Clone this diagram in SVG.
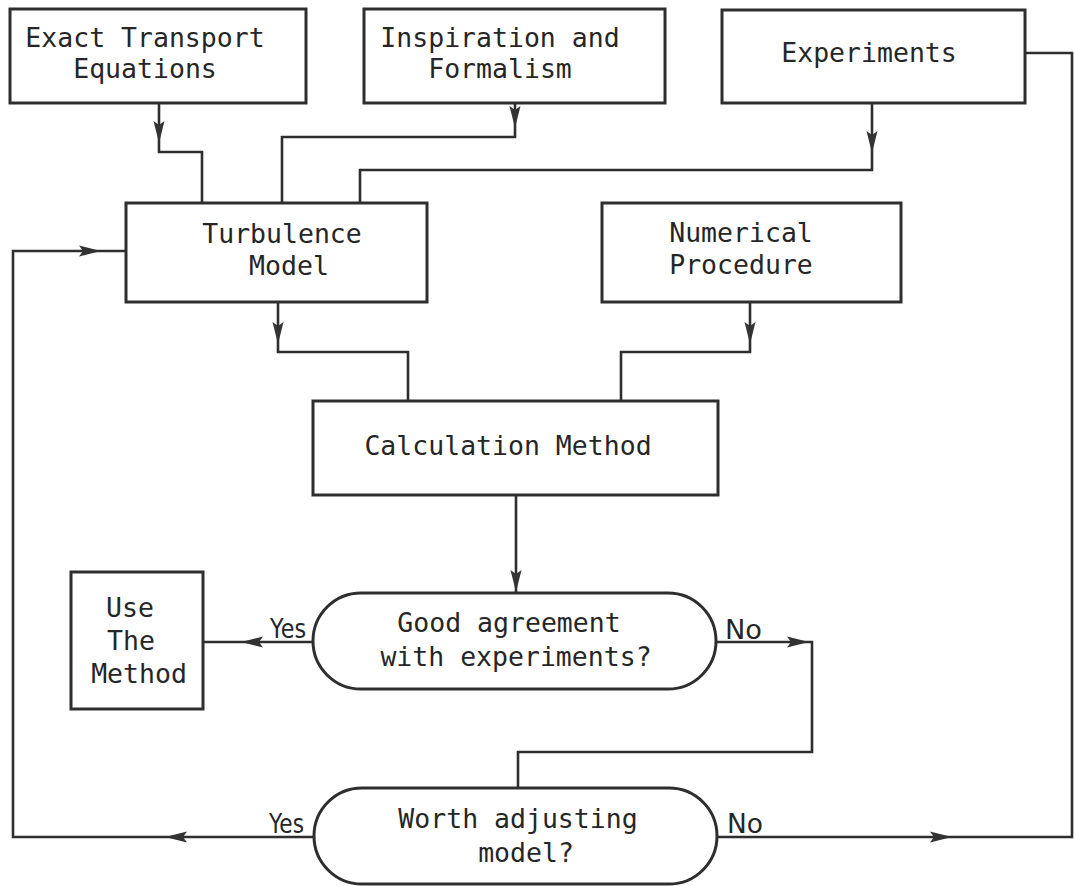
<svg xmlns="http://www.w3.org/2000/svg" xmlns:xlink="http://www.w3.org/1999/xlink" width="1074" height="886" viewBox="0 0 1074 886">
<style>
.box{fill:#fff;stroke:#2e2e2e;stroke-width:3}
.pill{fill:#fff;stroke:#2e2e2e;stroke-width:3}
.con{fill:none;stroke:#2e2e2e;stroke-width:2.6}
.ah{fill:#333}
.t{font-family:"DejaVu Sans Mono","Liberation Mono",monospace;font-size:26.5px;fill:#262626;text-anchor:middle}
.yn{font-family:"DejaVu Sans","Liberation Sans",sans-serif;font-size:27px;fill:#262626}
</style>
<defs>
<path id="ah" d="M-22,-5.5 L0,0 L-22,5.5 L-18,0 z"/>
</defs>
<rect width="1074" height="886" fill="#fff"/>

<g id="connectors">
<path class="con" d="M159,103 L159,152 L202,152 L202,203"/>
<path class="con" d="M515,103 L515,137 L282,137 L282,203"/>
<path class="con" d="M872,103 L872,170 L360,170 L360,203"/>
<path class="con" d="M314,837 L13,837 L13,251 L126,251"/>
<path class="con" d="M278,302 L278,352 L408,352 L408,401"/>
<path class="con" d="M750,302 L750,352 L621,352 L621,401"/>
<path class="con" d="M516,495 L516,593"/>
<path class="con" d="M313,642 L203,642"/>
<path class="con" d="M717,642 L812,642 L812,752 L518,752 L518,788"/>
<path class="con" d="M717,837 L1072,837 L1072,53 L1025,53"/>
<use class="ah" xlink:href="#ah" transform="translate(159,143) rotate(90)"/>
<use class="ah" xlink:href="#ah" transform="translate(515,128) rotate(90)"/>
<use class="ah" xlink:href="#ah" transform="translate(872,153) rotate(90)"/>
<use class="ah" xlink:href="#ah" transform="translate(101,251)"/>
<use class="ah" xlink:href="#ah" transform="translate(278,344) rotate(90)"/>
<use class="ah" xlink:href="#ah" transform="translate(750,344) rotate(90)"/>
<use class="ah" xlink:href="#ah" transform="translate(516,592) rotate(90)"/>
<use class="ah" xlink:href="#ah" transform="translate(241,642) rotate(180)"/>
<use class="ah" xlink:href="#ah" transform="translate(809,642)"/>
<use class="ah" xlink:href="#ah" transform="translate(165,837) rotate(180)"/>
<use class="ah" xlink:href="#ah" transform="translate(952,837)"/>
</g>

<g id="exact">
<rect class="box" x="10" y="9" width="296" height="94"/>
<text class="t" x="145" y="47">Exact Transport</text>
<text class="t" x="145" y="78">Equations</text>
</g>
<g id="inspiration">
<rect class="box" x="364" y="9" width="301" height="94"/>
<text class="t" x="500" y="47">Inspiration and</text>
<text class="t" x="500" y="78">Formalism</text>
</g>
<g id="experiments">
<rect class="box" x="722" y="10" width="303" height="93"/>
<text class="t" x="869" y="62">Experiments</text>
</g>
<g id="turbulence">
<rect class="box" x="126" y="203" width="301" height="99"/>
<text class="t" x="282" y="243">Turbulence</text>
<text class="t" x="289" y="275">Model</text>
</g>
<g id="numerical">
<rect class="box" x="602" y="203" width="299" height="99"/>
<text class="t" x="741" y="242">Numerical</text>
<text class="t" x="741" y="274">Procedure</text>
</g>
<g id="calculation">
<rect class="box" x="313" y="401" width="405" height="94"/>
<text class="t" x="508" y="455">Calculation Method</text>
</g>
<g id="usemethod">
<rect class="box" x="71" y="572" width="132" height="137"/>
<text class="t" x="130" y="617">Use</text>
<text class="t" x="131" y="650">The</text>
<text class="t" x="139" y="683">Method</text>
</g>
<g id="agreement">
<rect class="pill" x="313" y="593" width="403" height="96" rx="48" ry="48"/>
<text class="t" x="509" y="632">Good agreement</text>
<text class="t" x="516" y="666">with experiments?</text>
<text class="yn" x="270" y="638" textLength="36" lengthAdjust="spacingAndGlyphs">Yes</text>
<text class="yn" x="725" y="639" textLength="37" lengthAdjust="spacingAndGlyphs">No</text>
</g>
<g id="worth">
<rect class="pill" x="314" y="788" width="403" height="96" rx="48" ry="48"/>
<text class="t" x="518" y="828">Worth adjusting</text>
<text class="t" x="526" y="862">model?</text>
<text class="yn" x="269" y="833" textLength="35" lengthAdjust="spacingAndGlyphs">Yes</text>
<text class="yn" x="727" y="833" textLength="36" lengthAdjust="spacingAndGlyphs">No</text>
</g>
</svg>
